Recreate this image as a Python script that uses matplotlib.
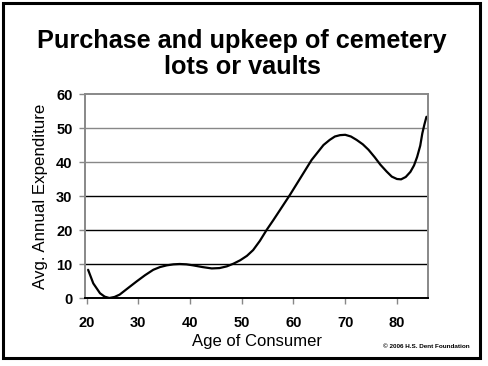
import matplotlib; matplotlib.use("Agg"); import matplotlib.pyplot as plt
from matplotlib.patches import Rectangle

plt.rcParams['font.family'] = ['Liberation Sans', 'DejaVu Sans']

# values
ages = [20.3, 21.3, 22.6, 23.5, 24.4, 25.4, 26.4, 28.0, 29.7, 31.3, 32.9, 34.2, 35.5, 36.8,
        38.0, 39.3, 40.6, 42.4, 44.2, 45.7, 47.1, 48.4, 49.7, 51.0, 52.2, 53.5, 54.8, 56.1,
        57.4, 59.3, 61.3, 63.5, 65.8, 67.0, 68.0, 69.0, 70.0, 71.1, 72.2, 73.4, 74.5,
        75.7, 76.8, 78.0, 79.0, 80.0, 80.8, 81.7, 82.6, 83.3, 83.9, 84.5, 84.9, 85.3, 85.7]
spend = [8.3, 4.3, 1.4, 0.4, 0.0, 0.3, 1.0, 2.9, 4.9, 6.7, 8.3, 9.1, 9.6, 9.9,
         10.0, 9.9, 9.6, 9.1, 8.7, 8.8, 9.3, 10.1, 11.1, 12.4, 14.1, 16.8, 20.0, 22.9,
         25.9, 30.3, 35.2, 40.6, 45.0, 46.5, 47.5, 47.9, 48.0, 47.5, 46.5, 45.2, 43.6,
         41.4, 39.2, 37.2, 35.7, 35.0, 34.9, 35.6, 37.1, 39.0, 41.5, 44.8, 48.4, 51.0, 53.3]
yticks = [0, 10, 20, 30, 40, 50, 60]
xticks = [20, 30, 40, 50, 60, 70, 80]

fig = plt.figure(figsize=(4.88, 3.66), dpi=100)
fig.patch.set_facecolor('white')
fig.add_artist(Rectangle((3/488, 8/366), 477/488, 355/366, fill=False, ec='black', lw=2.2,
                         transform=fig.transFigure))

ax = fig.add_axes([85/488, 68/366, 343/488, 204/366])
ax.plot(ages, spend, color='black', lw=1.6, solid_capstyle='round', solid_joinstyle='round')
ax.set_xlim(19.7, 86.0)
ax.set_ylim(0, 60)
ax.set_xticks(xticks)
ax.set_yticks(yticks)
ax.set_xticklabels([str(t) for t in xticks], fontsize=10.5, fontweight='bold')
ax.set_yticklabels([str(t) for t in yticks], fontsize=10.5, fontweight='bold')
ax.tick_params(axis='both', direction='out', length=4, width=1, color='#888888')
ax.tick_params(axis='x', pad=9)
ax.tick_params(axis='y', pad=5)

for v in yticks[1:-1]:
    ax.axhline(v, color='black' if v <= 30 else '#888888', lw=1, zorder=0)

for s in ('top', 'right', 'left'):
    ax.spines[s].set_color('#888888')
    ax.spines[s].set_linewidth(1.4)
ax.spines['bottom'].set_color('black')
ax.spines['bottom'].set_linewidth(1.4)

ax.set_xlabel('Age of Consumer', fontsize=12, labelpad=3)
ax.set_ylabel('Avg. Annual Expenditure', fontsize=12.2, labelpad=6)

fig.text(242/488, 1 - 54/366, 'Purchase and upkeep of cemetery\nlots or vaults', ha='center',
         va='center', fontsize=18.2, fontweight='bold', linespacing=1.12)
fig.text(426/488, 1 - 347/366, '\u00a9 2006 H.S. Dent Foundation', ha='center', va='center',
         fontsize=4.6, fontweight='bold')

fig.savefig('out.png', dpi=100, facecolor='white')
